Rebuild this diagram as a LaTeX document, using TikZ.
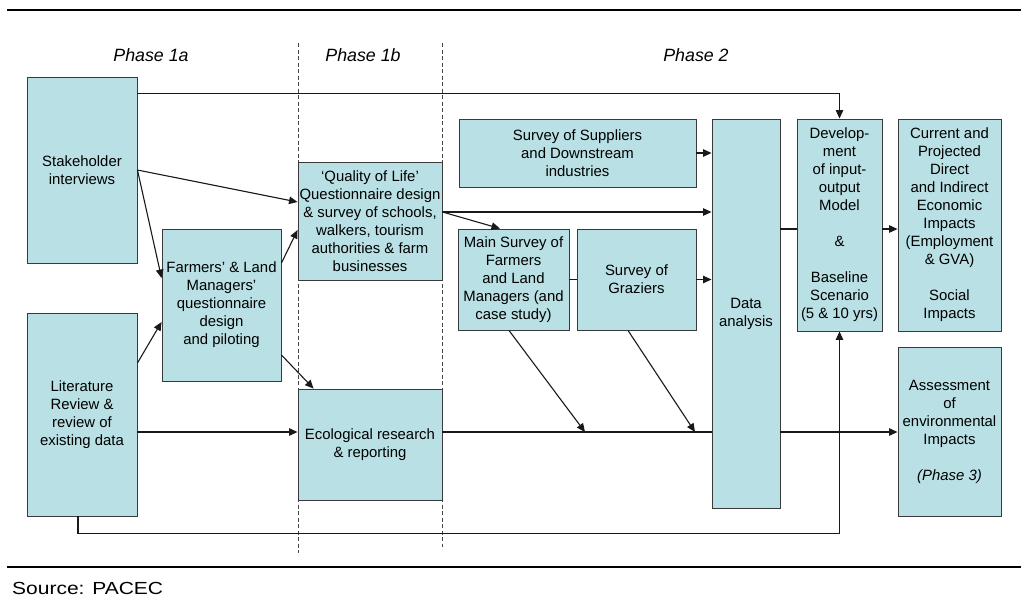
\documentclass[tikz,border=0pt]{standalone}
\usepackage{fontspec}
\setmainfont{Liberation Sans}
\usetikzlibrary{arrows.meta,calc}
\definecolor{boxfill}{RGB}{185,224,228}
\definecolor{boxline}{RGB}{58,58,58}
\definecolor{wirecol}{RGB}{25,25,25}
\definecolor{guidecol}{RGB}{70,70,70}

\begin{document}
\begin{tikzpicture}[x=1pt,y=-1pt,
  box/.style={draw=boxline,fill=boxfill,line width=0.9pt,inner sep=0pt,align=center,
              font=\fontsize{14.9}{18}\selectfont},
  wire/.style={draw=wirecol,line width=1.1pt},
  arr/.style={wire,-{Triangle[length=8.5pt,width=7.5pt]}},
  phase/.style={font=\fontsize{17.8}{20}\selectfont\itshape,anchor=base},
  guide/.style={draw=guidecol,line width=1pt,dash pattern=on 4pt off 2.5pt},
  rulestyle/.style={line width=2pt}]
\useasboundingbox (0,0) rectangle (1021,598);

% page rules and source line
\draw[rulestyle] (7,10) -- (1021,10);
\draw[rulestyle] (7,567) -- (1021,567);
\node[anchor=base west,inner sep=0pt] (src) at (12,594)
  {\scalebox{1.2}[1]{\fontsize{17.5}{20}\selectfont Source: PACEC}};

% phase headings and separators
\node[phase] (p1a) at (151,61.7) {Phase 1a};
\node[phase] (p1b) at (363,61.7) {Phase 1b};
\node[phase] (p2)  at (696,61.7) {Phase 2};
\draw[guide] (298,43) -- (298,553);
\draw[guide] (442,43) -- (442,547);

% Phase 1a
\node[box,minimum width=110pt,minimum height=186pt] (sh) at (82,170) {Stakeholder\\interviews};
\node[box,minimum width=110pt,minimum height=203pt] (lit) at (82,414.5)
  {Literature\\Review \&\\review of\\existing data};
\node[box,minimum width=119pt,minimum height=152pt] (fq) at (221.5,305)
  {Farmers’ \& Land\\Managers’\\questionnaire\\design\\and piloting};

% Phase 1b
\node[box,minimum width=144pt,minimum height=118pt] (qol) at (370,221)
  {‘Quality of Life’\\Questionnaire design\\\& survey of schools,\\walkers, tourism\\authorities \& farm\\businesses};
\node[box,minimum width=144pt,minimum height=111pt] (eco) at (370,444.5)
  {Ecological research\\\& reporting};

% Phase 2
\node[box,minimum width=237pt,minimum height=68pt] (sup) at (577.5,153)
  {Survey of Suppliers\\and Downstream\\industries};
\node[box,minimum width=111pt,minimum height=101pt] (ms) at (513.5,279.5)
  {Main Survey of\\Farmers\\and Land\\Managers (and\\case study)};
\node[box,minimum width=119pt,minimum height=101pt] (gr) at (636.5,279.5)
  {Survey of\\Graziers};
\node[box,minimum width=68pt,minimum height=389pt] (da) at (746,313.5)
  {Data\\analysis};
\node[box,minimum width=85pt,minimum height=212pt] (dev) at (839.5,225)
  {Develop-\\ment\\of input-\\output\\Model\\[18pt]\&\\[18pt]Baseline\\Scenario\\(5 \& 10 yrs)};
\node[box,minimum width=103pt,minimum height=212pt] (cur) at (949.5,225)
  {Current and\\Projected\\Direct\\and Indirect\\Economic\\Impacts\\(Employment\\\& GVA)\\[18pt]Social\\Impacts};
\node[box,minimum width=103pt,minimum height=169pt] (ass) at (949.5,431.5)
  {Assessment\\of\\environmental\\Impacts\\[18pt]\textit{(Phase 3)}};

% junctions on the ecological line
\coordinate (ecoout) at ([yshift=12.5pt]eco.east);
\coordinate (j1) at (585,432);
\coordinate (j2) at (695,432);

% connectors
\draw[arr] ([yshift=-17pt]sh.north east) -| (dev.north);
\draw[arr] (sh.east) -- ([yshift=19pt]qol.west);
\draw[arr] (sh.east) -- ([yshift=27pt]fq.west);
\draw[arr] ([yshift=51.5pt]lit.east) -- ([yshift=-17pt]fq.west);
\draw[arr] ([yshift=42pt]fq.east) -- ([yshift=-9pt]qol.west);
\draw[arr] ([yshift=-50pt]fq.east) -- ([xshift=16pt]eco.north west);
\draw[arr] ([yshift=-17.5pt]lit.east) -- ([yshift=12.5pt]eco.west);
\draw[wire] (ecoout) -- (ecoout -| da.west);
\draw[arr] (ecoout -| da.east) -- (ecoout -| ass.west);
\draw[arr] ([xshift=-4.5pt]ms.south) -- (j1);
\draw[arr] ([xshift=-8.5pt]gr.south) -- (j2);
\draw[arr] ([yshift=9pt]qol.east) -- ([yshift=9pt]qol.east -| da.west);
\draw[arr] ([yshift=9pt]qol.east) -- ([xshift=-13.5pt]ms.north);
\draw[arr] (sup.east) -- (sup.east -| da.west);
\draw[wire] (ms.east) -- (gr.west);
\draw[arr] (gr.east) -- (gr.east -| da.west);
\draw[wire] ([yshift=-4pt]dev.west -| da.east) -- ([yshift=-4pt]dev.west);
\draw[arr] ([yshift=-4pt]dev.east) -- ([yshift=-4pt]cur.west);
\draw[arr] ([xshift=-4pt]lit.south) -- ++(0,17) -| (dev.south);
\end{tikzpicture}
\end{document}
